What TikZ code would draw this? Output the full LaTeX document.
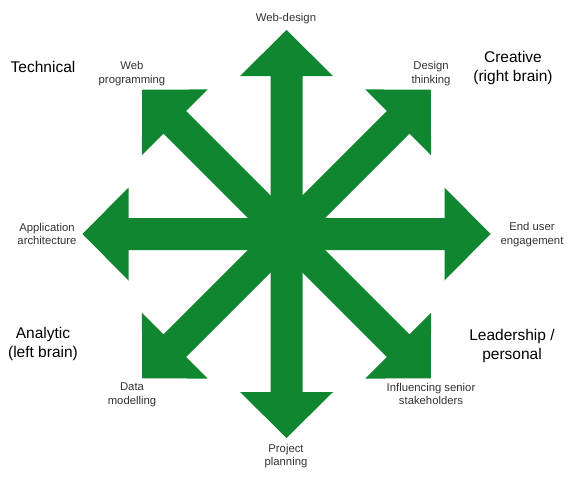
\documentclass[tikz,border=0pt]{standalone}
\usepackage{fontspec}
\setmainfont{Liberation Sans}
\definecolor{arrowgreen}{RGB}{16,134,48}
\definecolor{labelgray}{RGB}{50,50,50}
\begin{document}
\begin{tikzpicture}[x=1pt,y=-1pt,
  small/.style={font=\fontsize{11.3}{13.8}\selectfont, align=center, text=labelgray, inner sep=0pt},
  big/.style={font=\fontsize{15.5}{19}\selectfont, align=center, text=black, inner sep=0pt},
  arrowshape/.style={fill=arrowgreen}]
\useasboundingbox (0,0) rectangle (576,477);
\coordinate (c) at (286.5,234);
\foreach \a in {0,45,...,315}{
  \fill[arrowshape, shift={(c)}, rotate=\a]
    (-16,-16) -- (158,-16) -- (158,-46.5) -- (204,0) -- (158,46.5) -- (158,16) -- (-16,16) -- cycle;
}
\node[small] (webdesign) at (286,19) {Web-design};
\node[small] (project) at (286,456) {Project\\planning};
\node[small] (apparch) at (47,234) {Application\\architecture};
\node[small] (enduser) at (532,234.5) {End user\\engagement};
\node[small] (webprog) at (132,73.5) {Web\\programming};
\node[small] (design) at (431,73.5) {Design\\thinking};
\node[small] (data) at (132,394.5) {Data\\modelling};
\node[small] (influence) at (431,394) {Influencing senior\\stakeholders};
\node[big] (technical) at (43,67) {Technical};
\node[big] (creative) at (513,67.5) {Creative\\(right brain)};
\node[big] (analytic) at (43,343.5) {Analytic\\(left brain)};
\node[big] (leadership) at (512,346) {Leadership /\\personal};
\end{tikzpicture}
\end{document}
